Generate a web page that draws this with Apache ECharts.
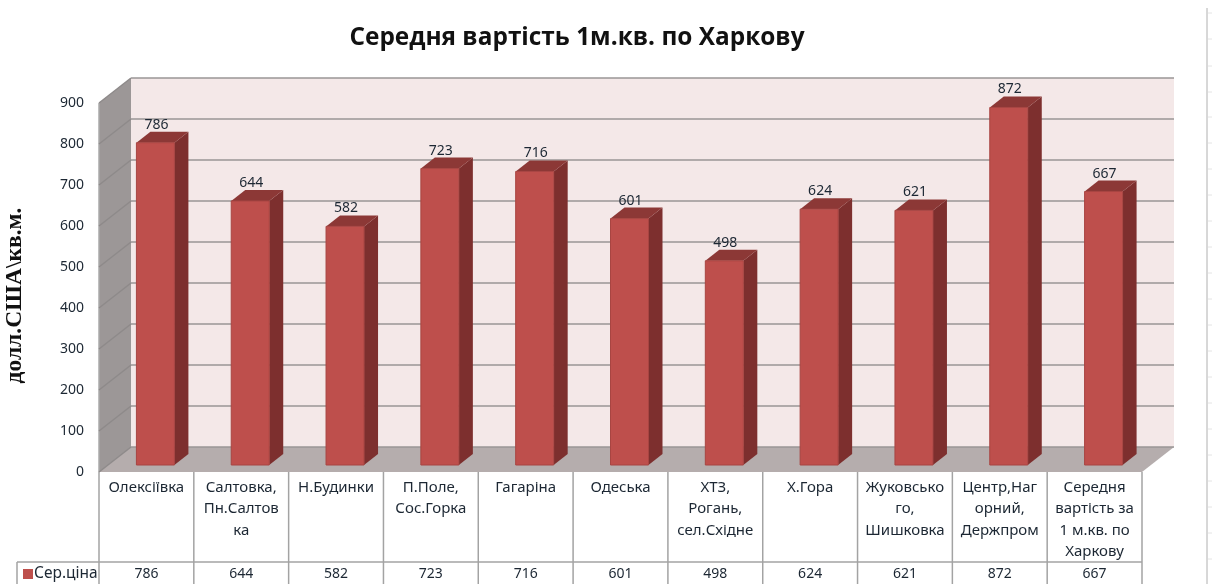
<!DOCTYPE html>
<html>
<head>
<meta charset="utf-8">
<title>Середня вартість 1м.кв. по Харкову</title>
<script src="https://cdn.jsdelivr.net/npm/echarts@6/dist/echarts.min.js"></script>
<style>
  html, body { margin: 0; padding: 0; background: #fff; }
  #chart { width: 1213px; height: 584px; }
</style>
</head>
<body>
<div id="chart"></div>
<script>
const categories = [
  "Олексіївка",
  "Салтовка,\nПн.Салтов\nка",
  "Н.Будинки",
  "П.Поле,\nСос.Горка",
  "Гагаріна",
  "Одеська",
  "ХТЗ,\nРогань,\nсел.Східне",
  "Х.Гора",
  "Жуковсько\nго,\nШишковка",
  "Центр,Наг\nорний,\nДержпром",
  "Середня\nвартість за\n1 м.кв. по\nХаркову",
];
const prices = [786, 644, 582, 723, 716, 601, 498, 624, 621, 872, 667];
const yTicks = [0, 100, 200, 300, 400, 500, 600, 700, 800, 900];

const textColor = "#1c2733";
const lineColor = "#a3a3a3";
const labelFont = '"Noto Sans", sans-serif';
// depth of the fake 3d box and of the bars, in px
const wallDx = 32, wallDy = -25;
const barDx = 14, barDy = -11, barHalf = 19, barShiftX = 9, barShiftY = -7;

const poly = (points, fill, extra) => ({
  type: "polygon",
  shape: { points: points },
  style: Object.assign({ fill: fill }, extra),
});
const seg = (a, b, color) => ({
  type: "line",
  shape: { x1: a[0], y1: a[1], x2: b[0], y2: b[1] },
  style: { stroke: color || lineColor, lineWidth: 1.5 },
});

const renderWalls = (params, api) => {
  const band = api.size([1, 0])[0];
  const x0 = api.coord([0, 0])[0] - band / 2;
  const x1 = api.coord([categories.length - 1, 0])[0] + band / 2;
  const y0 = api.coord([0, 0])[1];
  const yTop = api.coord([0, 900])[1];
  return {
    type: "group",
    children: [
      poly([[x0 + wallDx, yTop + wallDy], [x1 + wallDx, yTop + wallDy], [x1 + wallDx, y0 + wallDy], [x0 + wallDx, y0 + wallDy]], "#f4e8e8"),
      poly([[x0, yTop], [x0 + wallDx, yTop + wallDy], [x0 + wallDx, y0 + wallDy], [x0, y0]], "#9c9797"),
      poly([[x0, y0], [x1, y0], [x1 + wallDx, y0 + wallDy], [x0 + wallDx, y0 + wallDy]], "#b5adad"),
      seg([x0, yTop], [x0, y0], "#aaaaaa"),
    ],
  };
};

const renderGridLine = (params, api) => {
  const band = api.size([1, 0])[0];
  const x0 = api.coord([0, 0])[0] - band / 2;
  const x1 = api.coord([categories.length - 1, 0])[0] + band / 2;
  const y = api.coord([0, api.value(0)])[1];
  return {
    type: "group",
    children: [
      seg([x0, y], [x0 + wallDx, y + wallDy], "#8e8a8a"),
      seg([x0 + wallDx, y + wallDy], [x1 + wallDx, y + wallDy], "#9a9696"),
    ],
  };
};

const renderBar = (params, api) => {
  const top = api.coord([api.value(0), api.value(1)]);
  const base = api.coord([api.value(0), 0]);
  const l = top[0] + barShiftX - barHalf;
  const r = top[0] + barShiftX + barHalf;
  const t = top[1] + barShiftY;
  const b = base[1] + barShiftY;
  return {
    type: "group",
    children: [
      poly([[r, t], [r + barDx, t + barDy], [r + barDx, b + barDy], [r, b]], "#7d2f2e"),
      poly([[l, t], [l + barDx, t + barDy], [r + barDx, t + barDy], [r, t]], "#8c3836"),
      {
        type: "rect",
        shape: { x: l, y: t, width: r - l, height: b - t },
        style: { fill: "#be4f4c", stroke: "#a84542", lineWidth: 1 },
      },
      {
        type: "text",
        style: {
          text: String(api.value(1)),
          x: top[0] + barShiftX + 1,
          y: t - 18,
          align: "center",
          verticalAlign: "middle",
          fill: textColor,
          font: "14px " + labelFont,
        },
      },
    ],
  };
};

const renderTable = (params, api) => {
  const band = api.size([1, 0])[0];
  const idx = api.value(0);
  const c = api.coord([idx, 0]);
  const l = c[0] - band / 2;
  const r = c[0] + band / 2;
  const rowY = c[1] + 90;
  const children = [
    seg([r, c[1]], [r, 584]),
    seg([l, rowY], [r, rowY]),
  ];
  if (idx === 0) {
    children.push(seg([l, c[1]], [l, 584]));
    children.push(seg([17, rowY], [l, rowY]));
    children.push(seg([17, rowY], [17, 584]));
  }
  return { type: "group", children: children };
};

// faint ruler at the right edge of the sheet
const rulerTicks = [13, 39, 66, 92, 117, 143, 169, 195, 221, 247, 273, 299, 325, 351, 377, 403, 429, 455, 481, 507, 533, 559];
const rulerGraphic = [
  {
    type: "line",
    shape: { x1: 1207, y1: 8, x2: 1207, y2: 584 },
    style: { stroke: "#b0b0b0", lineWidth: 1 },
  },
].concat(rulerTicks.map((y) => ({
  type: "line",
  shape: { x1: 1208, y1: y, x2: 1212, y2: y },
  style: { stroke: "#e4e4e4", lineWidth: 1 },
})));

const chart = echarts.init(document.getElementById("chart"));
chart.setOption({
  animation: false,
  backgroundColor: "#fff",
  title: {
    text: "Середня вартість 1м.кв. по Харкову",
    left: 572,
    top: 21,
    textAlign: "center",
    textStyle: {
      fontFamily: '"Open Sans", sans-serif',
      fontSize: 24.4,
      fontWeight: "bold",
      color: "#111",
    },
  },
  legend: {
    left: 23,
    top: 566,
    padding: 0,
    itemWidth: 10,
    itemHeight: 10,
    itemGap: 0,
    data: [{ name: "Сер.ціна", icon: "rect", itemStyle: { color: "#be4f4c", borderColor: "#a84542" } }],
    textStyle: { fontFamily: labelFont, fontSize: 15.5, color: textColor, padding: [0, 0, 0, -4] },
  },
  grid: { left: 99, right: 71, top: 103, bottom: 112, outerBoundsMode: "none" },
  xAxis: [
    {
      type: "category",
      data: categories,
      position: "bottom",
      axisLine: { show: false },
      axisTick: { show: false },
      axisLabel: {
        interval: 0,
        margin: 5,
        lineHeight: 21.3,
        verticalAlign: "top",
        fontFamily: labelFont,
        fontSize: 15,
        color: textColor,
      },
    },
    {
      type: "category",
      data: prices.map(String),
      position: "bottom",
      offset: 90,
      axisLine: { show: false },
      axisTick: { show: false },
      axisLabel: {
        interval: 0,
        margin: 5,
        fontFamily: labelFont,
        fontSize: 14,
        color: textColor,
      },
    },
  ],
  yAxis: {
    type: "value",
    min: 0,
    max: 900,
    interval: 100,
    name: "долл.США\\кв.м.",
    nameLocation: "middle",
    nameGap: 72,
    nameTextStyle: {
      fontFamily: '"Liberation Serif", serif',
      fontWeight: "bold",
      fontSize: 23.5,
      color: "#111",
      padding: [0, 16, 0, 0],
    },
    axisLine: { show: false },
    axisTick: { show: false },
    splitLine: { show: false },
    axisLabel: { margin: 15, fontFamily: labelFont, fontSize: 14, color: textColor },
  },
  series: [
    { type: "custom", name: "walls", silent: true, z: 1, data: [0], renderItem: renderWalls },
    { type: "custom", name: "gridlines", silent: true, z: 2, data: yTicks.map((v) => [v]), renderItem: renderGridLine },
    { type: "custom", name: "table", silent: true, z: 2, data: categories.map((c, i) => [i]), renderItem: renderTable },
    {
      type: "custom",
      name: "Сер.ціна",
      z: 3,
      itemStyle: { color: "#be4f4c" },
      encode: { x: 0, y: 1 },
      data: prices.map((v, i) => [i, v]),
      renderItem: renderBar,
    },
  ],
  graphic: rulerGraphic,
});
</script>
</body>
</html>
